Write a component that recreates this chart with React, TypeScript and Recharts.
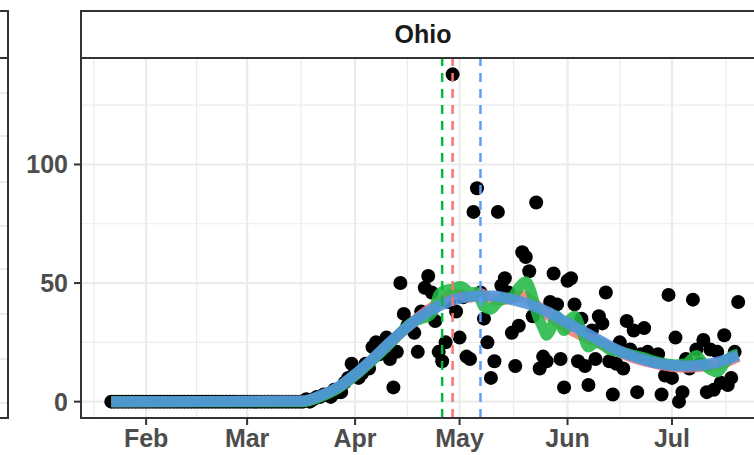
import React from "react";
import {
  ComposedChart,
  Scatter,
  Line,
  XAxis,
  YAxis,
  CartesianGrid,
  ReferenceLine,
} from "recharts";

// day index 0 = 2020-01-22
const dailyCases = [
  0, 0, 0, 0, 0, 0, 0, 0, 0, 0, 0, 0, 0, 0, 0, 0, 0, 0, 0, 0, 0, 0, 0, 0,
  0, 0, 0, 0, 0, 0, 0, 0, 0, 0, 0, 0, 0, 0, 0, 0, 0, 0, 0, 0, 0, 0, 0,
  // Mar 9 ->
  0, 0, 0, 0, 0, 0, 0, 0, 0, 1, 0, 1, 2, 2, 3, 3, 2, 5, 4, 4,
  8, 10, 16, 13, 10, 12, 16, 14, 23, 25, 20, 22, 27, 18, 6, 21, 50, 37, 32, 33,
  29, 21, 38, 48, 53, 46, 34, 21, 17, 25, 42, 138, 38, 27, 44, 19, 18, 80, 90, 46,
  35, 25, 10, 17, 80, 49, 52, 46, 29, 15, 32, 63, 61, 55, 36, 84, 14, 19, 17, 42,
  54, 41, 18, 6, 51, 52, 41, 17, 35, 15, 7, 30, 18, 36, 33, 46, 17, 3, 16, 25,
  14, 34, 22, 30, 4, 20, 31, 21, 18, 17, 20, 3, 11, 45, 10, 27, 0, 4, 18, 14,
  43, 22, 16, 26, 4, 22, 5, 21, 8, 28, 7, 10, 21, 42,
];

// smooth fits
const blueDays = [0, 55, 60, 65, 70, 75, 80, 85, 90, 95, 100, 105, 110, 115, 120, 125, 130, 135, 140, 145, 150, 155, 160, 165, 170, 175, 180];
const blueFit = [0, 0.3, 2.5, 6, 11.5, 18, 25, 31.5, 37, 41, 43.5, 44.5, 44.5, 43, 41, 38, 34, 30, 26, 22, 19, 16.8, 15.5, 15, 15.5, 17, 19.5];

const redDays = [0, 55, 60, 65, 70, 75, 80, 85, 90, 95, 98, 100, 103, 106, 110, 115, 118, 120, 125, 130, 135, 140, 145, 150, 155, 160, 165, 170, 175, 180];
const redFit = [0, 0.2, 2.2, 5.8, 11.2, 17.8, 24.8, 31.5, 37.5, 42.5, 45.5, 45, 44, 45.5, 43, 43.5, 44.5, 43, 37, 32, 28, 25, 21.5, 18.5, 16.5, 15, 14.5, 15, 16, 19];

const greenDays = [0, 55, 60, 65, 70, 75, 80, 83, 86, 89, 91, 93, 94, 96, 98, 100, 102, 103, 104, 105, 106, 107, 109, 111, 113, 115, 117, 119, 121, 122, 124, 125, 126, 128, 130, 132, 133, 135, 137, 139, 141, 143, 146, 150, 153, 156, 159, 162, 165, 168, 170, 172, 174, 176, 178, 180];
const greenFit = [0, 0, 2, 5.5, 11, 17.5, 24.5, 29, 33, 35, 36, 40, 45, 47, 47.5, 48.5, 47, 44.5, 46, 46, 43, 40, 39, 42, 43.5, 44, 48, 50.5, 44, 38, 31, 28, 30, 36, 30, 35, 36, 30, 23, 25, 24, 22, 21, 19.5, 18.5, 17, 16, 15.5, 16, 19.5, 16, 13.5, 12.5, 16, 19, 20];

// vertical markers (day index): green, red (peak day), blue
const markerDays = [95, 98, 106];
const markerColors = ["#00BA38", "#F8766D", "#619CFF"];

const monthTicks = [10, 39, 70, 100, 131, 161];
const monthLabels = ["Feb", "Mar", "Apr", "May", "Jun", "Jul"];
const minorXTicks = [-5, 24.5, 54.5, 85, 115.5, 146, 176.5];
const yTicks = [0, 50, 100];
const minorYTicks = [25, 75, 125];

const leftPanelGrid = [92, 135, 181, 225, 268, 313, 358, 402];

const points = dailyCases.map((v, i) => ({ t: i, v }));
const toSeries = (days: number[], vals: number[]) =>
  days.map((t, i) => ({ t, v: vals[i] }));
const blueData = toSeries(blueDays, blueFit);
const redData = toSeries(redDays, redFit);
const greenData = toSeries(greenDays, greenFit);

const tickFont = {
  fill: "#4d4d4d",
  fontSize: 25,
  fontWeight: 700,
  fontFamily: "Liberation Sans, Arial, sans-serif",
};

const Dot = (props: any) => <circle cx={props.cx} cy={props.cy} r={7} fill="#000" />;

export default function App() {
  return (
    <div
      style={{
        position: "fixed",
        left: 0,
        top: 0,
        width: 754,
        height: 455,
        overflow: "hidden",
        background: "#fff",
      }}
    >
      {/* neighbouring facet, cut off */}
      <div
        style={{
          position: "absolute",
          left: -30,
          top: 10,
          width: 39,
          height: 409,
          boxSizing: "border-box",
          border: "2px solid #333",
        }}
      >
        {leftPanelGrid.map((y) => (
          <div
            key={y}
            style={{ position: "absolute", left: 0, right: 0, top: y - 11 - 1, height: 1.5, background: "#ebebeb" }}
          />
        ))}
        <div style={{ position: "absolute", left: 0, right: 0, top: 45, height: 2, background: "#333" }} />
      </div>

      <ComposedChart
        width={765}
        height={455}
        margin={{ top: 58, right: 0, bottom: 0, left: 0 }}
        style={{ position: "absolute", left: 0, top: 0 }}
      >
        <CartesianGrid
          stroke="#ebebeb"
          strokeWidth={1.2}
          horizontalValues={minorYTicks}
          verticalValues={minorXTicks}
        />
        <CartesianGrid
          stroke="#ebebeb"
          strokeWidth={2.2}
          horizontalValues={yTicks}
          verticalValues={monthTicks}
        />
        <XAxis
          type="number"
          dataKey="t"
          domain={[-8.7, 187.7]}
          ticks={monthTicks}
          tickFormatter={(v) => monthLabels[monthTicks.indexOf(v)]}
          allowDataOverflow
          height={37}
          axisLine={false}
          tickSize={7}
          tickMargin={4}
          tickLine={{ stroke: "#333", strokeWidth: 2 }}
          tick={tickFont}
          interval={0}
        />
        <YAxis
          type="number"
          dataKey="v"
          domain={[-6.9, 144.9]}
          ticks={yTicks}
          allowDataOverflow
          width={81}
          axisLine={false}
          tickSize={7}
          tickMargin={6}
          tickLine={{ stroke: "#333", strokeWidth: 2 }}
          tick={tickFont}
          interval={0}
        />
        <Scatter data={points} dataKey="v" shape={Dot} isAnimationActive={false} zIndex={100} />
        <Line
          data={redData}
          dataKey="v"
          type="monotone"
          stroke="#F8766D"
          strokeOpacity={0.85}
          strokeWidth={11}
          dot={false}
          activeDot={false}
          isAnimationActive={false}
          zIndex={200}
        />
        <Line
          data={greenData}
          dataKey="v"
          type="monotone"
          stroke="#22B845"
          strokeOpacity={0.88}
          strokeWidth={11}
          dot={false}
          activeDot={false}
          isAnimationActive={false}
          zIndex={210}
        />
        <Line
          data={blueData}
          dataKey="v"
          type="monotone"
          stroke="#4F95DA"
          strokeOpacity={0.9}
          strokeWidth={11}
          dot={false}
          activeDot={false}
          isAnimationActive={false}
          zIndex={220}
        />
        {markerDays.map((d, i) => (
          <ReferenceLine
            key={d}
            x={d}
            stroke={markerColors[i]}
            strokeWidth={2.5}
            strokeDasharray="9 7"
            zIndex={300}
          />
        ))}
      </ComposedChart>

      {/* strip */}
      <div
        style={{
          position: "absolute",
          left: 80,
          top: 10,
          width: 690,
          height: 49,
          boxSizing: "border-box",
          border: "2px solid #333",
          background: "#fff",
          display: "flex",
          alignItems: "center",
          justifyContent: "center",
          fontFamily: "Liberation Sans, Arial, sans-serif",
          fontWeight: 700,
          fontSize: 25,
          color: "#1a1a1a",
          paddingRight: 4,
        }}
      >
        Ohio
      </div>
      {/* panel border */}
      <div
        style={{
          position: "absolute",
          left: 80,
          top: 57,
          width: 690,
          height: 362,
          boxSizing: "border-box",
          border: "2px solid #333",
          pointerEvents: "none",
        }}
      />
    </div>
  );
}
